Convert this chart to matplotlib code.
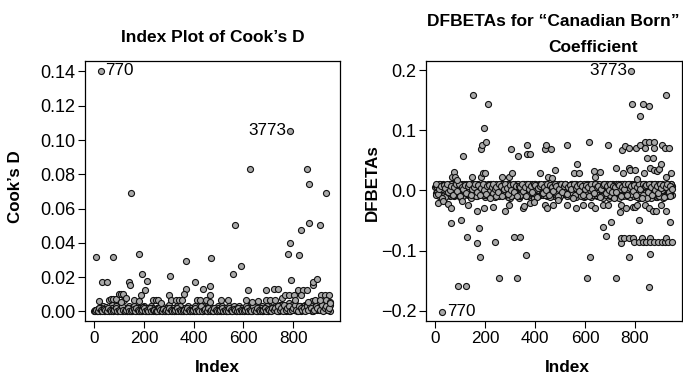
import matplotlib
matplotlib.use("Agg")
import matplotlib.pyplot as plt

plt.rcParams["font.family"] = ["Liberation Sans", "DejaVu Sans"]

# ---- Cook's D: isolated points (index, value) ----
cook_idx = [7, 29, 33, 51, 76, 140, 143, 148, 180, 191, 204, 213, 304, 367, 367,
            404, 437, 464, 467, 471, 556, 567, 591, 617, 627, 691, 724, 737, 780,
            788, 789, 793, 820, 823, 833, 840, 857, 857, 863, 865, 880, 880, 897,
            907, 911, 927, 931, 943,
            20, 60, 69, 77, 87, 100, 109, 117, 120, 127, 107, 160, 180, 187, 236,
            247, 256, 267, 300, 309, 327, 340, 351, 360, 413, 424, 451, 464, 511,
            537, 609, 633, 657, 689, 707, 727, 753, 767, 784, 804, 809, 833, 860,
            887, 907, 933, 947, 949]
cook_val = [0.0317, 0.1405, 0.0169, 0.0169, 0.0320, 0.0170, 0.0152, 0.0692, 0.0336,
            0.0216, 0.0122, 0.0180, 0.0208, 0.0293, 0.0130, 0.0169, 0.0130, 0.0150,
            0.0097, 0.0313, 0.0216, 0.0505, 0.0262, 0.0122, 0.0832, 0.0125, 0.0129,
            0.0129, 0.0336, 0.0398, 0.1055, 0.0181, 0.0125, 0.0332, 0.0476, 0.0122,
            0.0832, 0.0122, 0.0515, 0.0744, 0.0152, 0.0171, 0.0190, 0.0505, 0.0097,
            0.0097, 0.0692, 0.0097,
            0.0060, 0.0068, 0.0074, 0.0074, 0.0074, 0.0099, 0.0099, 0.0099, 0.0068,
            0.0080, 0.0055, 0.0068, 0.0060, 0.0097, 0.0068, 0.0068, 0.0068, 0.0049,
            0.0097, 0.0068, 0.0068, 0.0068, 0.0068, 0.0099, 0.0068, 0.0068, 0.0068,
            0.0055, 0.0068, 0.0068, 0.0064, 0.0055, 0.0058, 0.0068, 0.0064, 0.0068,
            0.0080, 0.0097, 0.0097, 0.0097, 0.0068, 0.0097, 0.0055, 0.0064, 0.0068,
            0.0068, 0.0055, 0.0050]

# ---- Cook's D: dense band near zero, interleaved rows (thousandths) ----
cook_band_a_milli = [
    0.5, 1, 0, 2, 0.5, 1, 3, 0, 1, 2, 0.5, 1, 4, 2, 1, 0, 3, 1, 2, 0.5,
    1, 2, 0, 3, 1, 0.5, 2, 1, 4, 0, 1, 2, 0.5, 3, 1, 0, 2, 1, 3, 0.5,
    1, 0, 2, 1, 3, 0.5, 1, 2, 0, 1, 4, 2, 1, 0.5, 2, 3, 1, 0, 1, 2,
    0.5, 2, 1, 3, 0, 1, 2, 0.5, 1, 4, 2, 1, 0, 3, 1, 2, 0.5, 1, 2, 0,
    1, 2, 0.5, 3, 1, 0, 2, 1, 0.5, 2, 3, 1, 0, 1, 2, 0.5, 1, 3, 2, 1,
    0, 2, 1, 3, 0.5, 1, 2, 4, 1, 0, 2, 1, 3, 0.5, 1, 2, 0, 3, 1, 2,
    1, 3, 2, 0.5, 4, 1, 2, 3, 0, 2, 5, 1, 3, 2, 1, 4, 0.5, 2, 3, 1,
    2, 4, 1, 3, 5, 2, 0.5, 3, 4, 1, 2, 5, 3, 1, 4, 2, 3, 1, 0.5]
cook_band_b_milli = [
    1, 0, 1.5, 0.5, 2, 1, 0, 2.5, 1, 0.5, 1, 2, 0, 1, 3, 0.5, 1, 2, 0, 1,
    2, 0.5, 1, 0, 2, 1, 3, 0.5, 1, 2, 0, 1, 2.5, 1, 0, 2, 0.5, 1, 2, 1,
    0, 1, 2, 0.5, 1, 3, 0, 1, 2, 0.5, 1, 0, 2, 1, 0.5, 2, 1, 3, 0, 1,
    2, 0.5, 1, 0, 2, 1, 0.5, 3, 1, 0, 2, 1, 0.5, 2, 1, 0, 3, 1, 2, 0.5,
    1, 0, 2, 1, 0.5, 3, 1, 2, 0, 1, 2, 0.5, 1, 3, 0, 2, 1, 0.5, 2, 1,
    1, 3, 0, 2, 1, 0.5, 2, 1, 3, 0, 1, 2, 0.5, 1, 2, 3, 0, 1, 2, 1,
    2, 1, 3, 0.5, 2, 4, 1, 2, 3, 1, 0.5, 2, 4, 1, 3, 2, 1, 3, 0.5, 2,
    3, 1, 4, 2, 3, 6, 1, 2, 4, 3, 1, 5, 2, 4, 3, 1, 2, 4]
cook_band_c_milli = [
    0, 1, 0.5, 2, 1, 0, 1.5, 1, 0, 2, 1, 0.5, 0, 1, 2, 0, 1, 0.5, 3, 1,
    0, 1, 2, 0.5, 0, 1, 1.5, 0, 2, 1, 0.5, 0, 1, 2, 0, 1, 0.5, 2, 0, 1,
    1, 0.5, 0, 2, 1, 0, 1.5, 0.5, 1, 0, 2, 1, 0, 0.5, 1, 2, 0, 1, 0.5, 0,
    1, 0, 2, 1, 0.5, 0, 1, 2, 0, 1, 0.5, 3, 0, 1, 1.5, 0, 2, 0.5, 1, 0,
    2, 1, 0, 0.5, 1, 2, 0, 1, 0.5, 0, 2, 1, 0, 1.5, 1, 0, 2, 0.5, 1, 0,
    0.5, 1, 2, 0, 1, 0.5, 3, 1, 0, 2, 1, 0.5, 0, 1, 2, 0, 1.5, 1, 0, 2,
    1, 2, 0.5, 3, 1, 2, 0, 4, 1, 2, 3, 0.5, 1, 2, 4, 1, 0.5, 3, 2, 1,
    2, 0.5, 3, 1, 4, 2, 0.5, 1, 3, 2, 6, 1, 4, 0.5, 2, 3, 1, 2]

# ---- DFBETAs: isolated points (index, value) ----
dfb_idx = [111, 150, 183, 188, 194, 205, 211, 304, 330, 366, 369, 380, 439, 443,
           465, 526, 566, 614, 690, 748, 759, 775, 785, 788, 805, 818, 818, 830,
           838, 840, 847, 855, 857, 871, 874, 876, 907, 920, 924, 937,
           66, 77, 79, 86, 146, 184, 191, 200, 267, 297, 306, 420, 452, 469, 478,
           554, 574, 636, 640, 658, 722, 752, 775, 781, 801, 808, 834, 860, 874,
           887, 895, 903, 922, 943,
           11, 33, 53, 63, 108, 132, 169, 195, 231, 280, 297, 350, 356, 380, 397,
           440, 446, 470, 490, 528, 564, 590, 625, 640, 673, 690, 740, 745, 762,
           790, 800, 808, 838, 856, 870, 883, 905, 925, 940,
           29, 63, 91, 103, 125, 128, 169, 174, 181, 240, 257, 317, 326, 339, 363,
           607, 620, 672, 685, 705, 722, 742, 742, 757, 774, 775, 791, 795, 814,
           815, 827, 832, 845, 854, 858, 860, 860, 876, 893, 906, 919, 923, 933,
           940, 946]
dfb_val = [0.057, 0.159, 0.068, 0.075, 0.103, 0.081, 0.143, 0.069, 0.057, 0.075,
           0.061, 0.061, 0.069, 0.075, 0.069, 0.075, 0.044, 0.081, 0.075, 0.067,
           0.074, 0.070, 0.199, 0.143, 0.071, 0.075, 0.123, 0.143, 0.081, 0.071,
           0.054, 0.141, 0.081, 0.054, 0.081, 0.071, 0.075, 0.070, 0.158, 0.070,
           0.023, 0.030, 0.022, 0.018, 0.023, 0.023, 0.029, 0.029, 0.023, 0.023,
           0.029, 0.029, 0.023, 0.020, 0.034, 0.029, 0.029, 0.032, 0.023, 0.031,
           0.037, 0.029, 0.037, 0.034, 0.034, 0.019, 0.029, 0.037, 0.034, 0.032,
           0.036, 0.044, 0.023, 0.029,
           -0.021, -0.018, -0.023, -0.030, -0.017, -0.025, -0.034, -0.029, -0.028,
           -0.034, -0.024, -0.029, -0.026, -0.021, -0.020, -0.024, -0.030, -0.025,
           -0.016, -0.024, -0.029, -0.024, -0.024, -0.030, -0.024, -0.024, -0.036,
           -0.024, -0.029, -0.027, -0.027, -0.024, -0.024, -0.029, -0.034, -0.034,
           -0.024, -0.034, -0.010,
           -0.202, -0.054, -0.159, -0.050, -0.159, -0.078, -0.087, -0.062, -0.111,
           -0.086, -0.145, -0.078, -0.145, -0.078, -0.108, -0.145, -0.111, -0.061,
           -0.075, -0.053, -0.145, -0.087, -0.079, -0.079, -0.079, -0.111, -0.079,
           -0.086, -0.050, -0.086, -0.079, -0.086, -0.086, -0.161, -0.105, -0.079,
           -0.086, -0.086, -0.086, -0.086, -0.086, -0.079, -0.086, -0.053, -0.086]

# ---- DFBETAs: dense band around zero, interleaved rows (thousandths) ----
dfb_band_a_milli = [
    5, -3, 9, 2, -8, 11, 0, -5, 8, 3, -10, 6, 10, -2, 4, 9, -6, 1, 11, -4,
    7, -1, 10, 3, -9, 8, 2, -6, 11, 5, -3, 9, 0, -11, 6, 10, -2, 4, 8, -7,
    9, 1, -5, 11, 3, -8, 7, 10, -1, 5, -12, 8, 2, 11, -4, 6, 9, -2, 3, 10,
    -6, 8, 4, 11, -3, 9, 1, -9, 7, 10, 0, 5, -7, 11, 3, 8, -4, 9, 2, -10,
    10, 4, -2, 8, 11, -6, 6, 1, 9, -8, 3, 10, -1, 7, 11, -5, 5, 9, 0, -11,
    8, 2, 11, -4, 6, 10, -7, 3, 9, 1, -9, 7, 11, -2, 5, 8, -12, 4, 10, 0,
    6, -3, 11, 9, -8, 4, 10, 1, -10, 7, 11, -5, 3, 9, -1, 8, -12, 10, 5, -6,
    11, 2, -9, 8, 10, -4, 6, -11, 9, 3, -7, 11, 1, -10, 8, 4, -3, 10, -8]
dfb_band_b_milli = [
    -5, 8, -10, 3, 6, -12, 1, 9, -7, 4, -2, 10, -9, 5, -4, 7, -11, 2, 8, -6,
    3, -8, 6, -12, 9, -1, 5, -10, 2, 8, -5, 11, -7, 1, 6, -9, 4, -3, 10, -11,
    -2, 7, -9, 4, 10, -6, 1, 8, -11, 5, -4, 9, -8, 2, 7, -12, 6, -1, 11, -7,
    4, -10, 8, -3, 6, -12, 10, -5, 2, 9, -8, 5, -1, 11, -9, 3, 7, -6, 0, 10,
    -7, 5, -12, 9, 1, -4, 8, -10, 6, -2, 11, -8, 3, -11, 7, 0, 9, -5, 4, -9,
    10, -6, 2, -11, 8, -3, 6, -9, 11, -1, 4, -12, 9, -7, 3, 7, -10, 1, 10, -4,
    -9, 5, -12, 8, -2, 11, -7, 3, 9, -11, 6, -5, 10, -8, 2, -12, 7, -3, 11, -10,
    4, -8, 9, -12, 6, -2, 10, -11, 3, 8, -6, -12, 5, 9, -9, 2, -5, 7]
dfb_band_c_milli = [
    8, -2, 4, 10, -6, 3, 9, -1, 6, 11, -4, 2, 8, -8, 5, 10, 0, -3, 7, 11,
    -5, 9, 4, 1, 10, -7, 6, 3, 11, -2, 8, 0, 5, 9, -6, 2, 10, 7, -3, 4,
    11, 6, -1, 9, 3, 8, -7, 5, 10, 0, 7, 2, -4, 9, 11, 1, -9, 6, 4, 8,
    2, 10, -2, 7, 5, -5, 11, 3, 8, -1, 9, 6, 1, -8, 10, 4, 7, -3, 11, 5,
    3, 9, -6, 11, 2, 7, 10, -3, 4, 8, -9, 6, 1, 10, 5, -4, 11, 3, 8, 2,
    6, 11, -5, 9, 1, 7, 4, -8, 10, 3, 8, -2, 6, 11, 0, 5, 9, -6, 2, 7,
    10, 4, -1, 11, 6, -7, 9, 2, 8, -4, 5, 11, -9, 7, 3, 10, 1, -5, 8, 6,
    -2, 9, 5, 11, -6, 3, 10, 7, -10, 8, 2, 11, -4, 6, 9, 1, -7, 10]
dfb_band_d_milli = [
    -8, 6, 10, -1, 3, 9, -11, 7, 2, -4, 11, 5, -7, 9, 1, -2, 10, 6, -9, 4,
    11, -6, 2, 8, -3, 10, 5, -10, 7, 0, 9, -5, 11, 3, -8, 6, 1, 10, -4, 8,
    -10, 5, 9, -2, 11, 4, -6, 8, 0, 10, -9, 3, 7, -1, 5, 11, -7, 2, 9, -3,
    10, -8, 6, 1, 11, -4, 3, 8, -10, 7, 2, -5, 11, 6, -2, 9, -11, 4, 10, 1,
    -4, 8, 11, -9, 5, 2, 10, -6, 7, 3, -2, 11, 9, -7, 4, 8, 0, -10, 6, 11,
    -3, 7, 9, 1, -8, 10, 5, -5, 2, 11, -10, 6, 8, -1, 10, 3, -7, 9, 4, -12,
    11, 7, -4, 2, 10, -9, 5, 8, -2, 11, -6, 3, 9, 0, -11, 7, 10, 4, -8, 11,
    6, -12, 8, 2, 10, -5, 9, 3, 11, -9, 7, 1, 5, -10, 10, -3, 8, 4]
dfb_band_e_milli = [
    10, -6, 2, 7, -12, 9, 4, 11, -3, 1, 8, -7, 6, 10, -1, 11, -9, 5, 3, 9,
    -4, 8, 11, -7, 2, 6, 10, -2, 9, -8, 4, 11, 1, -6, 7, 9, -12, 5, 10, 3,
    6, -3, 11, 8, -9, 2, 10, 4, -6, 9, 1, 11, -3, 7, -10, 8, 5, 10, -1, 6,
    -9, 11, 3, 7, -2, 10, 9, -11, 4, 8, 11, -4, 6, 1, 10, -8, 9, 5, -1, 11,
    7, -10, 3, 10, -3, 8, 11, -6, 5, 9, 2, -12, 10, 4, 7, -1, 11, 8, -7, 3,
    9, 5, -9, 11, 2, -4, 10, 6, 8, -11, 3, 9, 11, -5, 7, 1, 10, -3, 8, 5,
    -2, 11, 9, -10, 6, 3, 10, -7, 11, 4, 8, -1, 9, -8, 6, 11, 2, -12, 10, 7,
    9, -3, 11, 5, -8, 10, 1, 8, -5, 11, 4, 9, -11, 6, 10, -2, 7, 3]

cook_ticks = [0.00, 0.02, 0.04, 0.06, 0.08, 0.10, 0.12, 0.14]
dfb_ticks = [-0.2, -0.1, 0.0, 0.1, 0.2]
x_ticks = [0, 200, 400, 600, 800]

W, H = 683, 379
fig = plt.figure(figsize=(W / 100, H / 100), dpi=100)
ax1 = fig.add_axes([85 / W, 1 - 321 / H, 255 / W, 260 / H])
ax2 = fig.add_axes([426 / W, 1 - 321 / H, 256 / W, 260 / H])

pt = dict(s=19, facecolor="#a9a9a9", edgecolor="#111111", linewidths=0.8, zorder=3)
fs = 12.3


def milli(vals):
    return [v / 1000 for v in vals]


# left: Cook's D
ax1.scatter(list(range(1, 950, 6)), milli(cook_band_a_milli), **pt)
ax1.scatter(list(range(4, 947, 6)), milli(cook_band_b_milli), **pt)
ax1.scatter(list(range(2, 945, 6)), milli(cook_band_c_milli), **pt)
ax1.scatter(cook_idx, cook_val, **pt)
ax1.set_xlim(-37, 988)
ax1.set_ylim(-0.0056, 0.1461)
ax1.set_yticks(cook_ticks)
ax1.set_yticklabels([f"{t:.2f}" for t in cook_ticks])
ax1.annotate("770", (29, 0.1405), xytext=(3, 0), textcoords="offset points",
             ha="left", va="center", fontsize=fs)
ax1.annotate("3773", (789, 0.1055), xytext=(-3, 0), textcoords="offset points",
             ha="right", va="center", fontsize=fs)

# right: DFBETAs
ax2.scatter(list(range(1, 950, 6)), milli(dfb_band_a_milli), **pt)
ax2.scatter(list(range(4, 947, 6)), milli(dfb_band_b_milli), **pt)
ax2.scatter(list(range(2, 945, 6)), milli(dfb_band_c_milli), **pt)
ax2.scatter(list(range(3, 946, 6)), milli(dfb_band_d_milli), **pt)
ax2.scatter(list(range(5, 948, 6)), milli(dfb_band_e_milli), **pt)
ax2.scatter(dfb_idx, dfb_val, **pt)
ax2.set_xlim(-37, 988)
ax2.set_ylim(-0.217, 0.215)
ax2.set_yticks(dfb_ticks)
ax2.set_yticklabels(["\u22120.2", "\u22120.1", "0.0", "0.1", "0.2"])
ax2.annotate("770", (29, -0.202), xytext=(3, 0), textcoords="offset points",
             ha="left", va="center", fontsize=fs)
ax2.annotate("3773", (785, 0.199), xytext=(-3, 0), textcoords="offset points",
             ha="right", va="center", fontsize=fs)

for ax in (ax1, ax2):
    ax.set_xticks(x_ticks)
    ax.tick_params(direction="out", length=5, width=0.8, labelsize=fs, pad=2)
    ax.tick_params(axis="y", labelsize=13)
    for sp in ax.spines.values():
        sp.set_linewidth(0.9)

fig.text(213 / W, 1 - 37 / H, "Index Plot of Cook\u2019s D", ha="center", va="center",
         fontsize=12.5, fontweight="bold")
fig.text(553 / W, 1 - 22 / H, "DFBETAs for \u201cCanadian Born\u201d", ha="center",
         va="center", fontsize=12.5, fontweight="bold")
fig.text(593 / W, 1 - 47 / H, "Coefficient", ha="center", va="center",
         fontsize=12.5, fontweight="bold")
fig.text(217 / W, 1 - 367 / H, "Index", ha="center", va="center",
         fontsize=12.4, fontweight="bold")
fig.text(567 / W, 1 - 367 / H, "Index", ha="center", va="center",
         fontsize=12.4, fontweight="bold")
fig.text(16 / W, 1 - 187 / H, "Cook\u2019s D", ha="center", va="center",
         rotation=90, fontsize=12.2, fontweight="bold")
fig.text(372 / W, 1 - 183 / H, "DFBETAs", ha="center", va="center",
         rotation=90, fontsize=12.2, fontweight="bold")

fig.savefig("out.png", dpi=100)
plt.close(fig)
